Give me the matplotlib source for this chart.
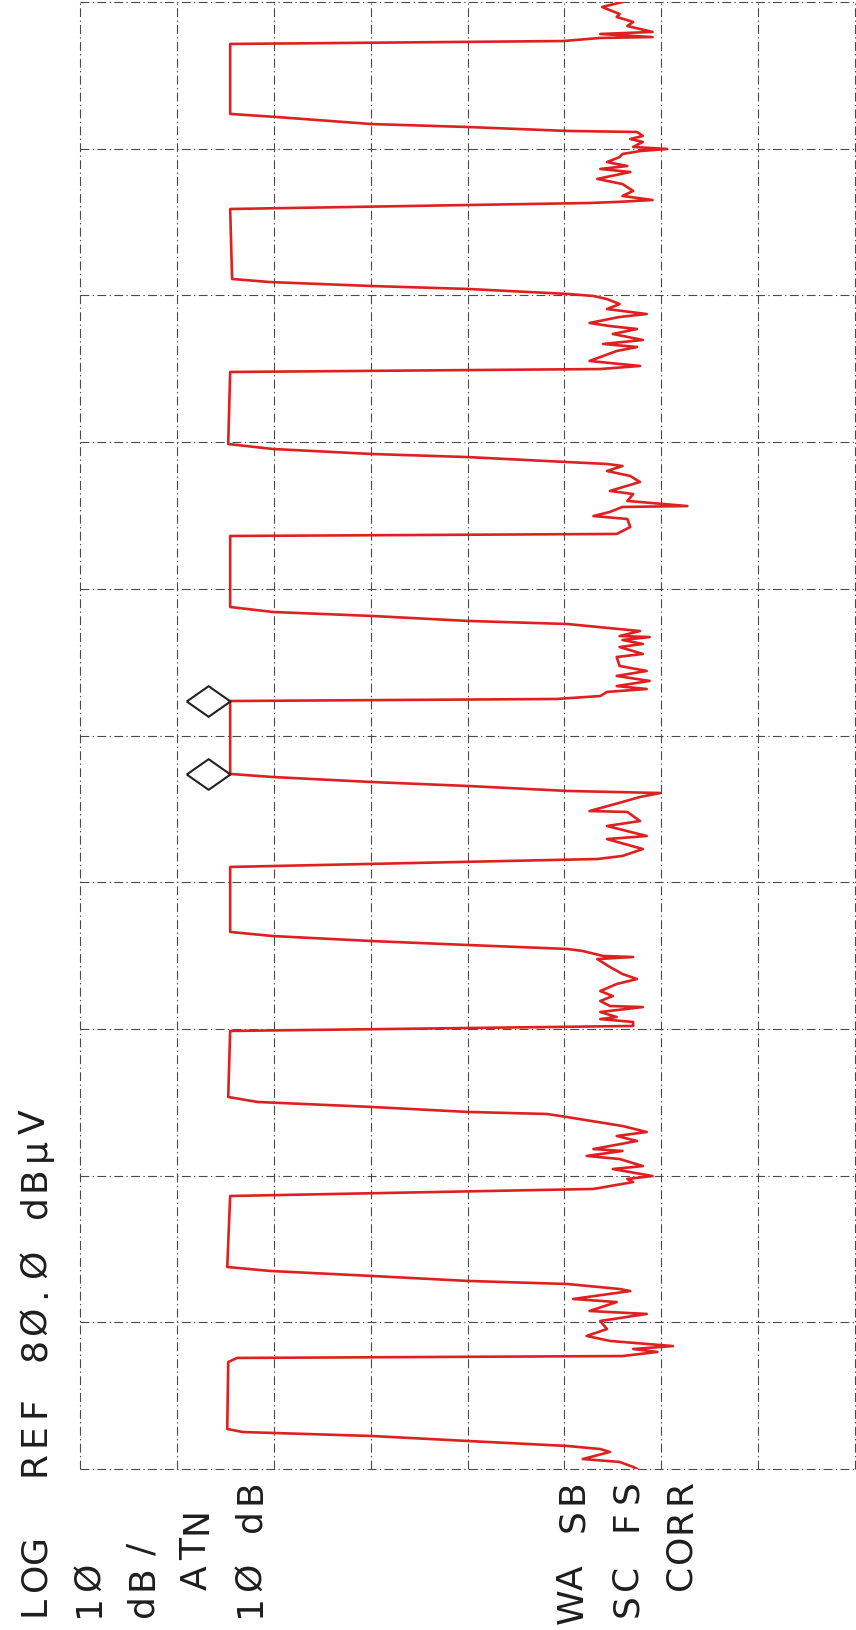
import numpy as np
import matplotlib
matplotlib.use("Agg")
import matplotlib.pyplot as plt

# trace: frequency in graticule divisions (0-10), level in dBuV
freq_div = [
    0.000, 0.014, 0.048, 0.068, 0.116, 0.136, 0.157, 0.191, 0.225, 0.252, 0.273,
    0.729, 0.757, 0.770, 0.798, 0.818, 0.838, 0.873, 0.907, 0.954, 1.009, 1.057,
    1.077, 1.138, 1.159, 1.213, 1.227, 1.261, 1.282, 1.316, 1.350, 1.377,
    1.861, 1.909, 1.956, 1.977, 1.997, 2.045, 2.065, 2.113, 2.134, 2.168, 2.181,
    2.236, 2.270, 2.297, 2.338, 2.399, 2.420, 2.434, 2.468, 2.502, 2.536,
    2.986, 3.020, 3.047, 3.067, 3.081, 3.115, 3.149, 3.156, 3.190, 3.224, 3.258,
    3.306, 3.340, 3.374, 3.422, 3.476, 3.490, 3.497, 3.531, 3.545, 3.572, 3.599,
    3.633, 3.661,
    4.104, 4.158, 4.179, 4.226, 4.294, 4.315, 4.383, 4.417, 4.479, 4.485, 4.547,
    4.581, 4.608, 4.622, 4.656, 4.683, 4.717, 4.738,
    5.235, 5.249, 5.269, 5.297, 5.317, 5.337, 5.372, 5.406, 5.440, 5.474, 5.535,
    5.556, 5.603, 5.624, 5.651, 5.671, 5.678, 5.712, 5.760, 5.781, 5.815, 5.842,
    5.876,
    6.360, 6.374, 6.421, 6.476, 6.496, 6.524, 6.558, 6.564, 6.599, 6.646, 6.667,
    6.728, 6.769, 6.803, 6.837, 6.851, 6.864, 6.898, 6.919, 6.953, 6.987,
    7.478, 7.498, 7.519, 7.553, 7.621, 7.648, 7.669, 7.696, 7.737, 7.771, 7.791,
    7.812, 7.853, 7.873, 7.907, 7.941, 7.975, 7.996, 8.010, 8.044, 8.064, 8.091,
    8.112,
    8.589, 8.630, 8.637, 8.650, 8.678, 8.712, 8.759, 8.794, 8.841, 8.862, 8.882,
    8.909, 8.943, 8.964, 8.984, 8.998, 9.012, 9.046, 9.066, 9.087, 9.114, 9.121,
    9.148, 9.168, 9.216, 9.237,
    9.714, 9.734, 9.755, 9.761, 9.782, 9.796, 9.836, 9.864, 9.898, 9.918, 9.966,
    10.000,
]
level_dbuv = [
    22.5, 22.9, 24.3, 28.1, 25.3, 26.3, 29.7, 40.0, 49.9, 63.2, 64.8,
    64.7, 63.8, 24.0, 20.4, 22.9, 18.8, 25.3, 27.7, 25.6, 26.3, 21.5,
    27.4, 24.6, 29.1, 23.2, 24.3, 29.7, 40.0, 49.9, 60.4, 64.8,
    64.5, 27.0, 22.9, 23.5, 20.9, 25.0, 21.9, 24.3, 27.7, 24.0, 27.0,
    22.5, 24.6, 21.5, 24.0, 29.7, 31.8, 40.0, 49.9, 61.7, 64.7,
    64.5, 22.9, 22.9, 26.3, 24.6, 26.3, 21.9, 25.3, 26.3, 25.0, 26.3,
    24.6, 22.5, 24.0, 25.3, 26.6, 22.9, 26.0, 28.1, 29.7, 40.0, 49.9,
    60.1, 64.5,
    64.5, 26.6, 24.0, 21.9, 25.6, 21.5, 25.6, 22.2, 23.5, 27.4, 24.0,
    22.2, 20.1, 29.7, 40.0, 49.9, 60.1, 64.5,
    64.5, 30.8, 26.3, 25.6, 21.5, 24.6, 21.2, 24.6, 21.5, 24.3, 24.6,
    21.9, 24.3, 21.9, 24.0, 21.2, 24.3, 22.2, 29.7, 40.0, 49.9, 60.1,
    64.5,
    64.5, 24.6, 23.2, 23.5, 27.0, 25.3, 24.0, 17.3, 23.5, 22.9, 25.3,
    22.2, 23.2, 25.6, 24.0, 25.6, 29.7, 40.0, 49.9, 60.1, 64.7,
    64.5, 26.3, 22.2, 27.4, 24.6, 22.5, 26.0, 21.9, 25.0, 22.5, 25.3,
    27.4, 24.3, 21.5, 25.6, 24.3, 25.6, 27.0, 29.7, 40.0, 49.9, 60.4,
    64.3,
    64.5, 27.4, 24.6, 20.9, 24.0, 22.9, 24.0, 26.6, 23.2, 26.3, 23.5,
    25.6, 24.3, 24.0, 22.2, 19.4, 22.9, 21.9, 23.2, 21.9, 22.5, 29.7,
    40.0, 49.9, 59.7, 64.5,
    64.5, 30.1, 26.3, 20.9, 26.3, 20.9, 23.5, 22.9, 24.6, 24.3, 26.1,
    24.0,
]

# the two markers sit on the corners of the fifth pulse
marker_freq = [5.235, 4.738]
marker_level = [64.5, 64.5]

ref_level = 80.0
db_per_div = 10
n_freq_div = 10

# annotation lines as the plotter printed them (one line per column)
annot_top = ["LOG  REF 8\u00d8.\u00d8 dB\u03bcV", "1\u00d8", "dB/", " ATN", "1\u00d8 dB"]
annot_bottom = ["WA SB", "SC FS", " CORR"]
annot_bottom_lines = [10, 11, 12]

W, H = 856, 1631
fig = plt.figure(figsize=(W / 100, H / 100), dpi=100)
fig.patch.set_facecolor("white")

# the hard copy is turned on its side: level runs left->right, frequency bottom->top
ax = fig.add_axes([80 / W, (H - 1470) / H, 775 / W, 1467 / H])
ax.set_xlim(ref_level, ref_level - 8 * db_per_div)
ax.set_ylim(0, n_freq_div)
ax.set_axis_off()

grid_style = dict(color="#4a4a4a", lw=0.8, linestyle=(0, (8, 3, 1.2, 3)), clip_on=False, zorder=1)
for lv in np.arange(0, ref_level + 1, db_per_div):
    ax.axvline(lv, **grid_style)
for fd in range(n_freq_div + 1):
    ax.axhline(fd, **grid_style)

ax.plot(level_dbuv, freq_div, color="#de2020", lw=1.9, zorder=3)

# diamond with its right tip on the trace point
diamond = [(-2, 0), (-1, 0.7), (0, 0), (-1, -0.7), (-2, 0)]
ax.plot(marker_level, marker_freq, linestyle="none", marker=diamond, markersize=63,
        mfc="none", mec="#222222", mew=1.5, zorder=4, clip_on=False)

# plotter-style text: fixed character pitch, rotated with the page
char_pitch = 28.5
line_pitch = 53.8
x_first = 18.0
cap_px = 27.0
y_start = 1620.0
text_kw = dict(rotation=90, rotation_mode="anchor", ha="center", va="baseline",
               family="DejaVu Sans", fontsize=26, color="#1e1e1e")


def plotter_text(line, s):
    x_base = x_first + line * line_pitch + cap_px
    for i, ch in enumerate(s):
        if ch == " ":
            continue
        y = y_start - (i + 0.5) * char_pitch
        fig.text(x_base / W, 1 - y / H, ch, **text_kw)


for k, s in enumerate(annot_top):
    plotter_text(k, s)
for k, s in zip(annot_bottom_lines, annot_bottom):
    plotter_text(k, s)

fig.savefig("out.png", dpi=100, facecolor="white")
